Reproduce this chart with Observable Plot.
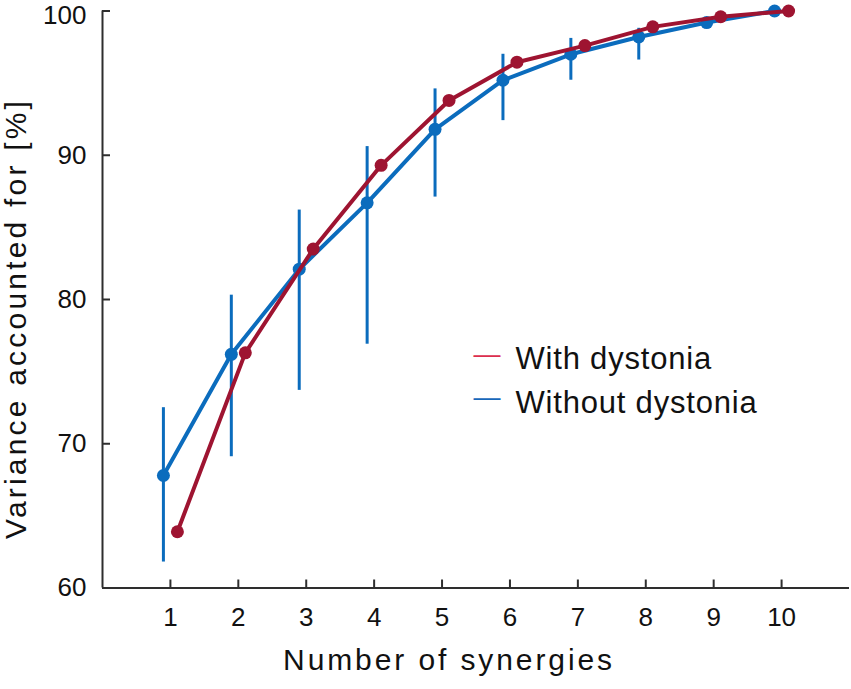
<!DOCTYPE html>
<html><head><meta charset="utf-8">
<script src="https://cdn.jsdelivr.net/npm/d3@7"></script>
<script src="https://cdn.jsdelivr.net/npm/@observablehq/plot@0.6"></script>
<style>body{margin:0;background:#fff} #chart{width:851px;height:689px}</style>
</head><body><div id="chart"></div>
<script>
const synergies = [1, 2, 3, 4, 5, 6, 7, 8, 9, 10];
const withDystonia = [63.9, 76.3, 83.5, 89.3, 93.8, 96.45, 97.6, 98.9, 99.6, 100.0];
const withoutDystonia = [67.8, 76.2, 82.1, 86.7, 91.8, 95.2, 97.0, 98.2, 99.2, 100.0];
const withoutLow = [61.8, 69.1, 73.7, 76.9, 87.1, 92.4, 95.2, 96.6, 98.9, 99.95];
const withoutHigh = [72.5, 80.3, 86.2, 90.6, 94.6, 97.0, 98.1, 98.8, 99.5, 100.05];
const xTicks = [1, 2, 3, 4, 5, 6, 7, 8, 9, 10];
const yTicks = [60, 70, 80, 90, 100];
const xDomain = [0, 11];
const yDomain = [60, 100];
const seriesNames = ["With dystonia", "Without dystonia"];
const seriesColors = ["#9E1431", "#0B6CBD"];
const legendColors = ["#DC2E4E", "#1767BA"];
const xLabel = "Number of synergies";
const yLabel = "Variance accounted for [%]";

const rows = synergies.map((s, i) => ({
  s, w: withDystonia[i], wo: withoutDystonia[i], lo: withoutLow[i], hi: withoutHigh[i]
}));

const font = "'Liberation Sans', Arial, sans-serif";
const axisColor = "#2e2e2e";
const red = seriesColors[0], blue = seriesColors[1];
const topTick = yTicks[yTicks.length - 1];

const chart = Plot.plot({
  width: 851, height: 689,
  marginLeft: 102, marginRight: 2, marginTop: 10.5, marginBottom: 101.5,
  style: {fontFamily: font, background: "#fff", color: "#111", overflow: "visible"},
  x: {domain: xDomain},
  y: {domain: yDomain},
  marks: [
    // spines
    Plot.ruleX([xDomain[0]], {y1: yDomain[0], y2: yDomain[1], stroke: axisColor, strokeWidth: 2}),
    Plot.ruleY([yDomain[0]], {x1: xDomain[0], x2: xDomain[1], stroke: axisColor, strokeWidth: 2}),
    // inward ticks
    Plot.axisX({ticks: xTicks, tickSize: -8, fill: "none", stroke: axisColor, strokeWidth: 2, label: null}),
    Plot.axisY({ticks: yTicks, tickSize: -8, fill: "none", stroke: axisColor, strokeWidth: 2, label: null}),
    // tick labels
    Plot.axisX({ticks: xTicks, tickSize: 0, tickPadding: 19.5, fontSize: 26, fill: "#111", label: null}),
    Plot.axisY({ticks: yTicks.filter(t => t !== topTick), tickSize: 0, tickPadding: 16, fontSize: 26, fill: "#111", label: null}),
    Plot.axisY({ticks: [topTick], tickSize: 0, tickPadding: 16, dy: 5, fontSize: 26, fill: "#111", label: null}),
    // without dystonia (blue)
    Plot.ruleX(rows, {x: "s", y1: "lo", y2: "hi", dx: -7, stroke: blue, strokeWidth: 3}),
    Plot.line(rows, {x: "s", y: "wo", dx: -7, stroke: blue, strokeWidth: 4}),
    Plot.dot(rows, {x: "s", y: "wo", dx: -7, r: 6.5, fill: blue}),
    // with dystonia (red)
    Plot.line(rows, {x: "s", y: "w", dx: 7, stroke: red, strokeWidth: 4}),
    Plot.dot(rows, {x: "s", y: "w", dx: 7, r: 6.5, fill: red}),
    // axis titles
    Plot.text([xLabel], {text: d => d, frameAnchor: "bottom", dx: -27, dy: 81.5, lineAnchor: "bottom", textAnchor: "middle", fontSize: 30, fill: "#111"}),
    Plot.text([yLabel], {text: d => d, frameAnchor: "left", dx: -77, dy: 19, rotate: -90, lineAnchor: "bottom", textAnchor: "middle", fontSize: 30, fill: "#111"}),
    // legend
    Plot.text(["\u2014"], {text: d => d, frameAnchor: "top-left", dx: 371, dy: 351.7, lineAnchor: "bottom", textAnchor: "start", fontSize: 27, fill: legendColors[0]}),
    Plot.text(["\u2014"], {text: d => d, frameAnchor: "top-left", dx: 371, dy: 394.7, lineAnchor: "bottom", textAnchor: "start", fontSize: 27, fill: legendColors[1]}),
    Plot.text([seriesNames[0]], {text: d => d, frameAnchor: "top-left", dx: 413, dy: 357.5, lineAnchor: "bottom", textAnchor: "start", fontSize: 31, fill: "#111"}),
    Plot.text([seriesNames[1]], {text: d => d, frameAnchor: "top-left", dx: 413, dy: 401.5, lineAnchor: "bottom", textAnchor: "start", fontSize: 31, fill: "#111"})
  ]
});

d3.select(chart).selectAll("text").each(function() {
  const t = this.textContent;
  if (t === xLabel) this.style.letterSpacing = "2.9px";
  else if (t === yLabel) this.style.letterSpacing = "3.2px";
  else if (seriesNames.includes(t)) this.style.letterSpacing = "0.8px";
});

document.getElementById("chart").appendChild(chart);
</script>
</body></html>
